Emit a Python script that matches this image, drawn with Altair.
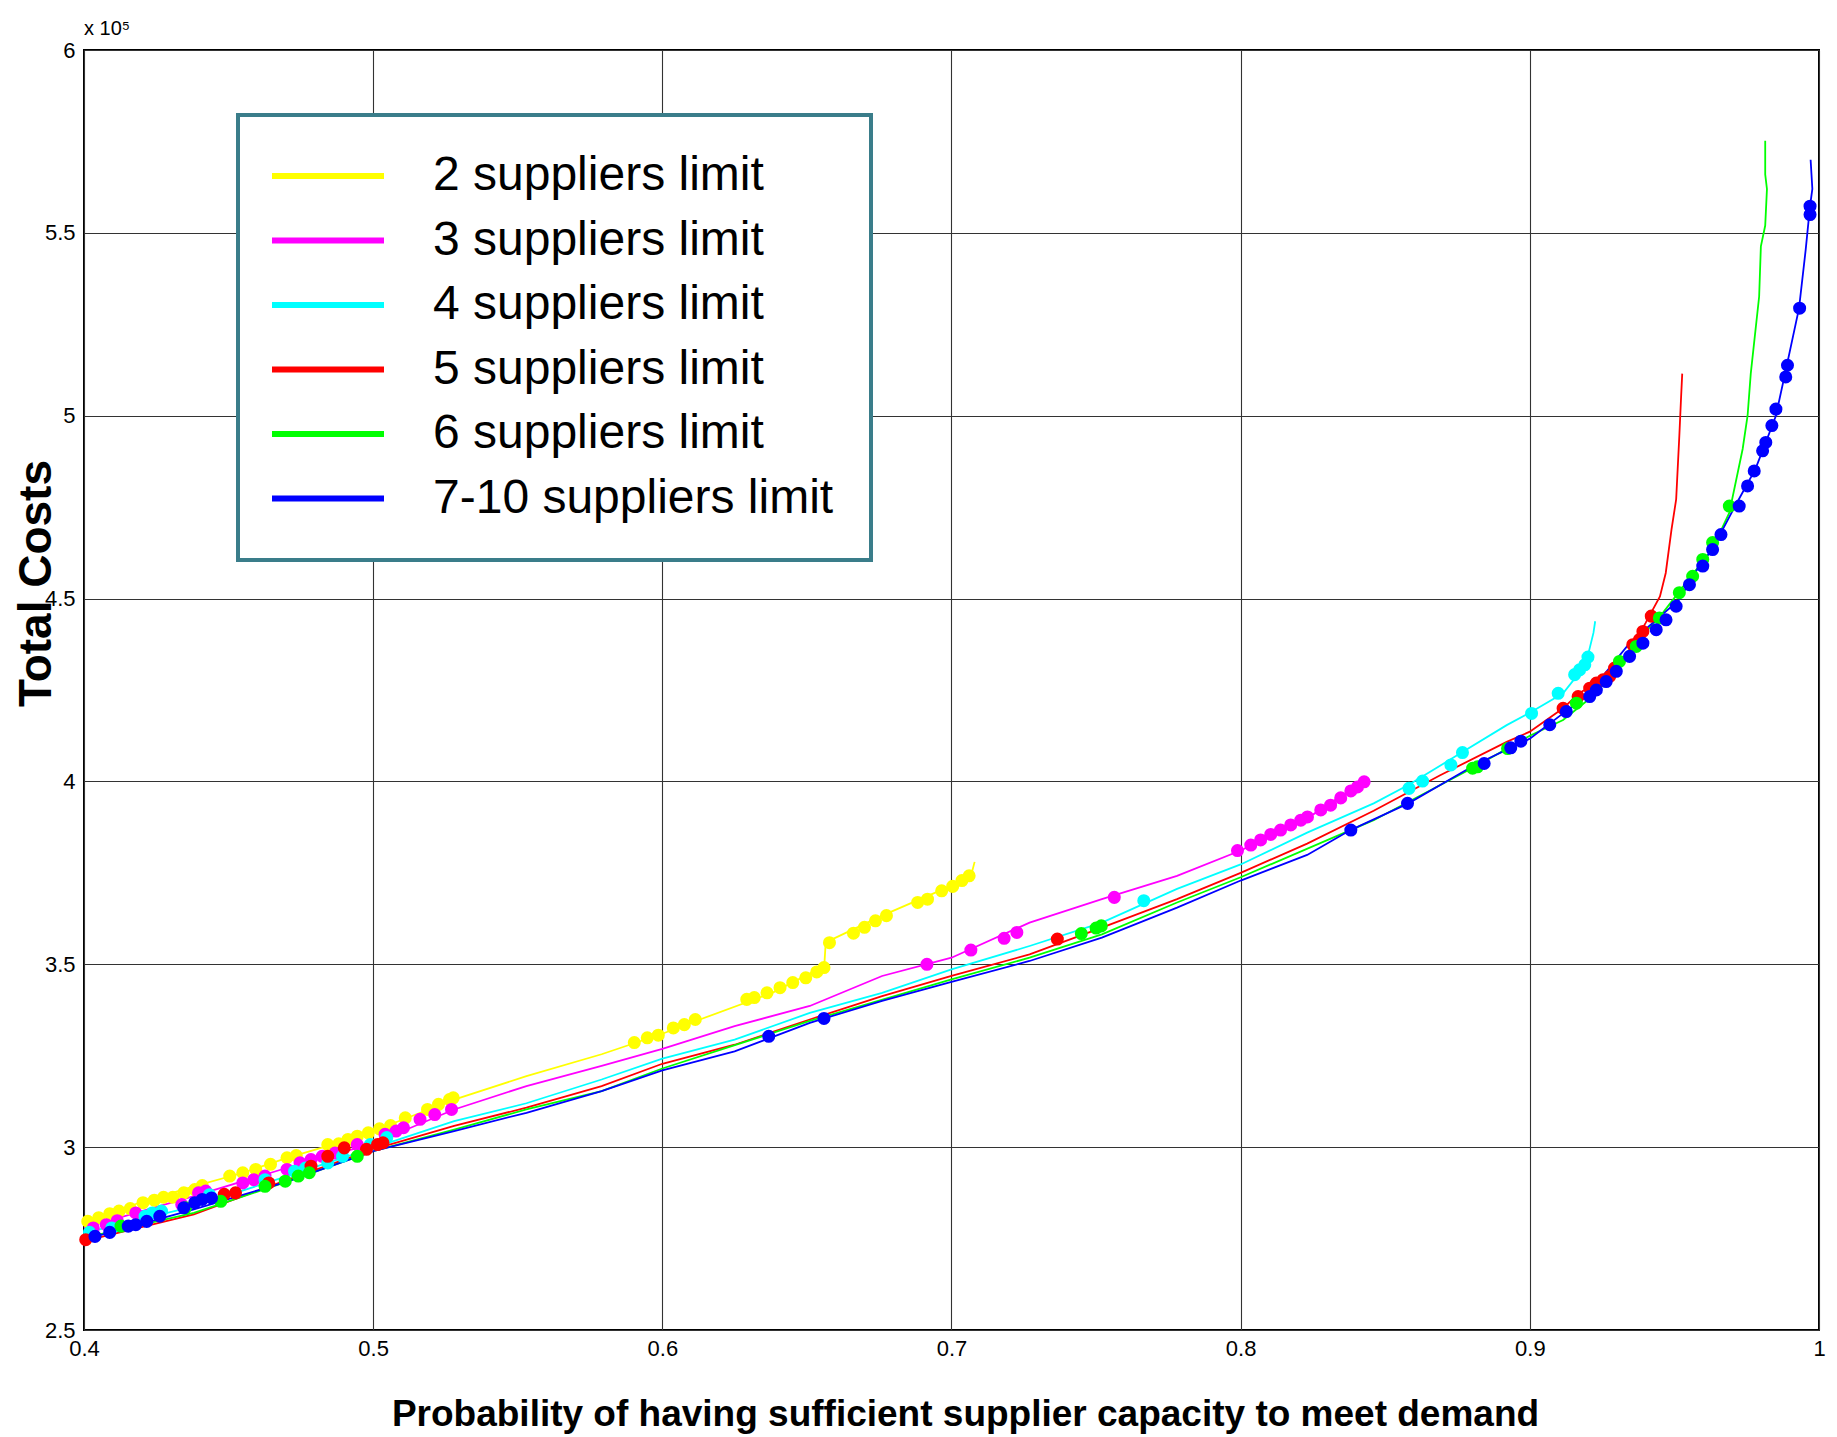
import altair as alt
import pandas as pd

SERIES = ["2 suppliers limit", "3 suppliers limit", "4 suppliers limit",
          "5 suppliers limit", "6 suppliers limit", "7-10 suppliers limit"]
COLORS = ["#ffff00", "#ff00ff", "#00ffff", "#ff0000", "#00ff00", "#0000ff"]

X_TICKS = [0.4, 0.5, 0.6, 0.7, 0.8, 0.9, 1.0]
Y_TICKS = [2.5, 3.0, 3.5, 4.0, 4.5, 5.0, 5.5, 6.0]
X_TITLE = "Probability of having sufficient supplier capacity to meet demand"
Y_TITLE = "Total Costs"
SCALE_NOTE = "x 10\u2075"

# ---- curves (x = probability, y = total cost in units of 10^5) ----
s2_x = [0.400, 0.420, 0.438, 0.455, 0.470, 0.485, 0.500, 0.515, 0.528, 0.553, 0.579, 0.600,
        0.613, 0.638, 0.656, 0.6565, 0.676, 0.700, 0.707, 0.708]
s2_y = [2.797, 2.850, 2.893, 2.930, 2.970, 3.005, 3.044, 3.090, 3.130, 3.194, 3.254, 3.310,
        3.349, 3.422, 3.495, 3.560, 3.633, 3.715, 3.750, 3.780]

s3_x = [0.400, 0.438, 0.470, 0.500, 0.528, 0.553, 0.579, 0.600, 0.625, 0.651, 0.676, 0.700,
        0.727, 0.752, 0.778, 0.800, 0.823, 0.844]
s3_y = [2.779, 2.866, 2.943, 3.010, 3.103, 3.167, 3.222, 3.269, 3.331, 3.386, 3.468, 3.518,
        3.614, 3.678, 3.742, 3.811, 3.899, 4.008]

s4_x = [0.400, 0.438, 0.470, 0.500, 0.528, 0.553, 0.579, 0.600, 0.625, 0.651, 0.676, 0.700,
        0.727, 0.752, 0.778, 0.800, 0.823, 0.846, 0.858, 0.875, 0.892, 0.900, 0.9115, 0.917,
        0.920, 0.922, 0.9226]
s4_y = [2.765, 2.838, 2.920, 2.998, 3.071, 3.120, 3.185, 3.242, 3.294, 3.367, 3.422, 3.486,
        3.550, 3.614, 3.706, 3.773, 3.860, 3.940, 3.990, 4.072, 4.154, 4.188, 4.241, 4.296,
        4.342, 4.406, 4.438]

s5_x = [0.400, 0.438, 0.470, 0.500, 0.528, 0.553, 0.579, 0.600, 0.625, 0.651, 0.676, 0.700,
        0.727, 0.752, 0.778, 0.800, 0.823, 0.846, 0.869, 0.892, 0.900, 0.9115, 0.917, 0.929,
        0.936, 0.940, 0.945, 0.947, 0.949, 0.9506, 0.9517, 0.9523, 0.9527]
s5_y = [2.743, 2.816, 2.910, 2.994, 3.058, 3.108, 3.167, 3.228, 3.280, 3.349, 3.413, 3.468,
        3.527, 3.600, 3.678, 3.750, 3.830, 3.920, 4.017, 4.108, 4.136, 4.200, 4.241, 4.296,
        4.378, 4.433, 4.506, 4.570, 4.689, 4.771, 4.945, 5.050, 5.115]

s6_x = [0.400, 0.438, 0.470, 0.500, 0.528, 0.553, 0.579, 0.600, 0.651, 0.700, 0.727, 0.752,
        0.778, 0.800, 0.846, 0.881, 0.900, 0.9115, 0.923, 0.9345, 0.946, 0.954, 0.963, 0.969,
        0.9736, 0.9753, 0.9764, 0.9793, 0.9799, 0.9814, 0.9820, 0.9814, 0.9814]
s6_y = [2.752, 2.820, 2.905, 2.989, 3.048, 3.103, 3.153, 3.215, 3.345, 3.459, 3.518, 3.582,
        3.669, 3.738, 3.894, 4.040, 4.125, 4.168, 4.241, 4.360, 4.461, 4.543, 4.634, 4.735,
        4.909, 5.000, 5.115, 5.326, 5.463, 5.520, 5.620, 5.660, 5.752]

s7_x = [0.400, 0.438, 0.470, 0.500, 0.528, 0.553, 0.579, 0.600, 0.625, 0.651, 0.676, 0.700,
        0.727, 0.752, 0.778, 0.800, 0.823, 0.838, 0.858, 0.881, 0.900, 0.9115, 0.9195, 0.9345,
        0.9517, 0.957, 0.963, 0.971, 0.978, 0.9816, 0.9851, 0.9885, 0.9931, 0.9954, 0.9969,
        0.9977, 0.9971]
s7_y = [2.747, 2.830, 2.905, 2.989, 3.044, 3.094, 3.153, 3.210, 3.262, 3.340, 3.400, 3.452,
        3.509, 3.573, 3.655, 3.729, 3.799, 3.867, 3.940, 4.045, 4.117, 4.186, 4.232, 4.378,
        4.497, 4.570, 4.634, 4.753, 4.854, 4.927, 5.000, 5.124, 5.294, 5.454, 5.573,
        5.620, 5.700]

# ---- highlighted solution points (dots) ----
d2_x = [0.4013, 0.4051, 0.4089, 0.4121, 0.4160, 0.4204, 0.4243, 0.4275, 0.4307, 0.4345, 0.4383,
        0.4409, 0.4504, 0.4549, 0.4594, 0.4645, 0.4702, 0.4734, 0.4843, 0.4881, 0.4913, 0.4945,
        0.4983, 0.5022, 0.5060, 0.5111, 0.5188, 0.5226, 0.5264, 0.5277, 0.5903, 0.5948, 0.5986,
        0.6038, 0.6076, 0.6114, 0.6292, 0.6318, 0.6362, 0.6407, 0.6451, 0.6496, 0.6534, 0.6559,
        0.6578, 0.6661, 0.6699, 0.6737, 0.6775, 0.6883, 0.6917, 0.6966, 0.7004, 0.7036, 0.7061]
d2_y = [2.797, 2.807, 2.818, 2.825, 2.832, 2.848, 2.855, 2.863, 2.863, 2.875, 2.884,
        2.895, 2.921, 2.930, 2.939, 2.953, 2.971, 2.977, 3.007, 3.009, 3.021, 3.030,
        3.039, 3.050, 3.059, 3.080, 3.103, 3.117, 3.130, 3.135, 3.286, 3.299, 3.306,
        3.326, 3.335, 3.349, 3.404, 3.409, 3.422, 3.436, 3.450, 3.463, 3.479, 3.491,
        3.559, 3.585, 3.601, 3.619, 3.633, 3.669, 3.678, 3.701, 3.713, 3.729, 3.742]

d3_x = [0.4032, 0.4077, 0.4115, 0.4179, 0.4338, 0.4396, 0.4421, 0.4549, 0.4587, 0.4626, 0.4702,
        0.4747, 0.4785, 0.4824, 0.4868, 0.4945, 0.5041, 0.5079, 0.5105, 0.5162, 0.5213, 0.5271,
        0.6915, 0.7067, 0.7182, 0.7226, 0.7563, 0.7989, 0.8035, 0.8069, 0.8104, 0.8138, 0.8173,
        0.8208, 0.8231, 0.8277, 0.8311, 0.8346, 0.8381, 0.8404, 0.8427]
d3_y = [2.779, 2.788, 2.799, 2.820, 2.843, 2.875, 2.880, 2.902, 2.911, 2.921, 2.939,
        2.957, 2.966, 2.975, 2.984, 3.007, 3.035, 3.044, 3.053, 3.076, 3.089, 3.103,
        3.500, 3.539, 3.571, 3.587, 3.683, 3.811, 3.826, 3.840, 3.855, 3.867, 3.881,
        3.894, 3.903, 3.922, 3.935, 3.955, 3.974, 3.985, 3.999]

d4_x = [0.4019, 0.4096, 0.4211, 0.4236, 0.4268, 0.4434, 0.4626, 0.4728, 0.4766, 0.4843, 0.4894,
        0.4990, 0.5047, 0.7665, 0.8582, 0.8629, 0.8727, 0.8767, 0.9006, 0.9098, 0.9155, 0.9172,
        0.9190, 0.9201]
d4_y = [2.767, 2.779, 2.811, 2.820, 2.825, 2.870, 2.911, 2.934, 2.943, 2.957, 2.975,
        3.007, 3.026, 3.674, 3.981, 4.001, 4.045, 4.079, 4.186, 4.241, 4.292, 4.305,
        4.319, 4.340]

d5_x = [0.4006, 0.4485, 0.4524, 0.4639, 0.4785, 0.4843, 0.4900, 0.4977, 0.5015, 0.5034, 0.7366,
        0.9115, 0.9167, 0.9207, 0.9230, 0.9253, 0.9276, 0.9293, 0.9356, 0.9379, 0.9391, 0.9420]
d5_y = [2.747, 2.871, 2.875, 2.902, 2.948, 2.975, 2.998, 2.994, 3.007, 3.012, 3.569,
        4.200, 4.232, 4.255, 4.269, 4.278, 4.287, 4.310, 4.374, 4.388, 4.410, 4.452]

d6_x = [0.4128, 0.4351, 0.4473, 0.4626, 0.4696, 0.4741, 0.4779, 0.4945, 0.7449, 0.7500, 0.7518,
        0.8802, 0.8819, 0.8923, 0.9161, 0.9310, 0.9368, 0.9448, 0.9517, 0.9563, 0.9598, 0.9632,
        0.9690]
d6_y = [2.784, 2.834, 2.852, 2.893, 2.907, 2.921, 2.930, 2.975, 3.584, 3.599, 3.605,
        4.036, 4.040, 4.090, 4.214, 4.328, 4.369, 4.447, 4.516, 4.561, 4.607, 4.653,
        4.753]

d7_x = [0.4038, 0.4089, 0.4153, 0.4179, 0.4217, 0.4262, 0.4345, 0.4383, 0.4409, 0.4441, 0.6368,
        0.6559, 0.8381, 0.8577, 0.8842, 0.8934, 0.8969, 0.9069, 0.9126, 0.9207, 0.9230, 0.9264,
        0.9299, 0.9345, 0.9391, 0.9437, 0.9471, 0.9506, 0.9552, 0.9598, 0.9632, 0.9661, 0.9724,
        0.9753, 0.9776, 0.9805, 0.9816, 0.9837, 0.9851, 0.9885, 0.9891, 0.9933, 0.9969, 0.9969]
d7_y = [2.756, 2.767, 2.784, 2.788, 2.797, 2.811, 2.834, 2.848, 2.857, 2.861, 3.303,
        3.352, 3.867, 3.940, 4.049, 4.092, 4.110, 4.155, 4.191, 4.232, 4.250, 4.273,
        4.301, 4.342, 4.378, 4.415, 4.442, 4.479, 4.538, 4.589, 4.634, 4.675, 4.753,
        4.808, 4.849, 4.904, 4.927, 4.973, 5.018, 5.106, 5.138, 5.294, 5.550, 5.573]

curves = [(s2_x, s2_y), (s3_x, s3_y), (s4_x, s4_y), (s5_x, s5_y), (s6_x, s6_y), (s7_x, s7_y)]
dots = [(d2_x, d2_y), (d3_x, d3_y), (d4_x, d4_y), (d5_x, d5_y), (d6_x, d6_y), (d7_x, d7_y)]

line_rows = []
for name, (xs, ys) in zip(SERIES, curves):
    for i, (xv, yv) in enumerate(zip(xs, ys)):
        line_rows.append({"series": name, "p": xv, "cost": yv, "idx": i})
dot_rows = []
for name, (xs, ys) in zip(SERIES, dots):
    for xv, yv in zip(xs, ys):
        dot_rows.append({"series": name, "p": xv, "cost": yv})
line_df = pd.DataFrame(line_rows)
dot_df = pd.DataFrame(dot_rows)

W, H = 1735, 1280
FONT = "Liberation Sans"

x_enc = alt.X("p:Q",
              scale=alt.Scale(domain=[0.4, 1.0], nice=False, zero=False),
              axis=alt.Axis(values=X_TICKS, format="~g", title=X_TITLE,
                            titleX=881, titleY=95, titleBaseline="alphabetic",
                            titleAlign="center",
                            titleFont=FONT, titleFontSize=37,
                            titleFontWeight="bold", titleColor="black",
                            labelFont=FONT, labelFontSize=22,
                            labelColor="black", labelPadding=8,
                            ticks=False, domain=False,
                            grid=True, gridColor="#333333", gridWidth=1.1,
                            labelFlush=False))
y_enc = alt.Y("cost:Q",
              scale=alt.Scale(domain=[2.5, 6.0], nice=False, zero=False),
              axis=alt.Axis(values=Y_TICKS, format="~g", title=Y_TITLE,
                            titleX=-34, titleY=533, titleAngle=270,
                            titleBaseline="alphabetic", titleAlign="center",
                            titleFont=FONT, titleFontSize=46,
                            titleFontWeight="bold", titleColor="black",
                            labelFont=FONT, labelFontSize=22,
                            labelColor="black", labelPadding=9,
                            ticks=False, domain=False,
                            grid=True, gridColor="#333333", gridWidth=1.1,
                            labelFlush=False))

color_scale = alt.Scale(domain=SERIES, range=COLORS)

lines = alt.Chart(line_df).mark_line(strokeWidth=1.8).encode(
    x=x_enc,
    y=y_enc,
    order=alt.Order("idx:Q"),
    color=alt.Color("series:N", scale=color_scale,
                    legend=alt.Legend(orient="none", legendX=154, legendY=65,
                                      title=None,
                                      symbolType="M-7,0H7", symbolSize=256,
                                      symbolStrokeWidth=6, symbolOffset=29,
                                      labelOffset=81, labelLimit=1000,
                                      labelFont=FONT,
                                      labelFontSize=48, labelColor="black",
                                      rowPadding=16.5, padding=37,
                                      strokeColor="#3a7d8a", fillColor="white")),
)

points = alt.Chart(dot_df).mark_circle(size=170, opacity=1).encode(
    x=x_enc,
    y=y_enc,
    color=alt.Color("series:N", scale=color_scale, legend=None),
)

chart = alt.layer(lines, points).properties(
    width=W, height=H,
    padding={"left": 84, "top": 50, "right": 18, "bottom": 107},
    autosize=alt.AutoSizeParams(type="none"),
    title=alt.TitleParams(SCALE_NOTE, anchor="start", frame="group", fontSize=20,
                          fontWeight="normal", font=FONT,
                          baseline="alphabetic", offset=13, dy=29, color="black"),
).configure_view(stroke="black", strokeWidth=2).configure_legend(strokeWidth=4)

chart.save("out.html", embed_options={"renderer": "svg", "actions": False})
